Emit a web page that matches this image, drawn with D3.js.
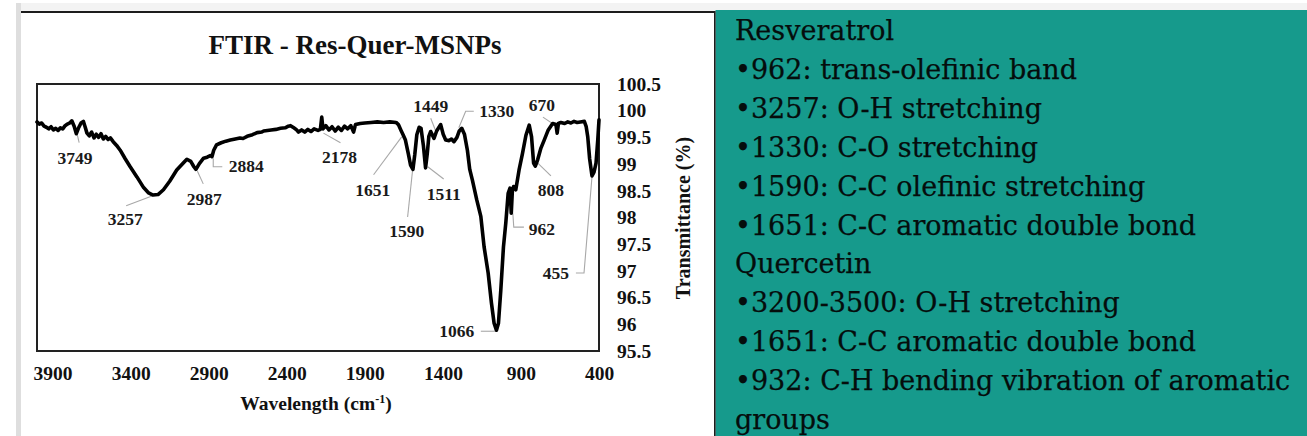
<!DOCTYPE html>
<html><head><meta charset="utf-8">
<script src="https://cdn.jsdelivr.net/npm/d3@7/dist/d3.min.js"></script>
<style>body{margin:0;background:#fff;overflow:hidden}svg{display:block}</style>
</head><body>
<svg id="c" width="1307" height="436"></svg>
<script>
// ---------- data ----------
const chartTitle = "FTIR - Res-Quer-MSNPs";
const xAxisTitle = "Wavelength (cm";
const xAxisTitleSup = "-1";
const yAxisTitle = "Transmittance (%)";

const wavenumbers = [4000,3985,3970,3955,3940,3925,3910,3895,3880,3865,3850,3835,3820,3805,3790,3777,3762,3748,3735,3718,3703,3692,3680,3665,3650,3635,3620,3605,3590,3575,3560,3545,3530,3512,3490,3467,3435,3403,3360,3317,3285,3257,3225,3190,3150,3105,3060,3040,3015,2995,2982,2960,2933,2910,2890,2879,2868,2850,2820,2790,2762,2730,2700,2680,2654,2620,2590,2560,2548,2500,2470,2440,2410,2390,2376,2355,2340,2325,2305,2285,2265,2245,2225,2200,2185,2176,2168,2150,2130,2110,2090,2070,2050,2030,2010,1990,1972,1960,1930,1900,1860,1820,1780,1740,1700,1685,1668,1655,1640,1622,1607,1592,1580,1567,1552,1540,1525,1511,1500,1490,1478,1457,1440,1414,1398,1382,1360,1345,1329,1310,1295,1279,1262,1243,1228,1211,1183,1157,1136,1110,1089,1072,1057,1044,1029,1012,997,982,970,962,955,947,933,912,890,868,847,832,819,808,793,772,751,725,697,676,668,660,644,620,600,580,560,540,520,494,482,472,460,445,432,419,408,400];
const transmittance = [99.79,99.75,99.77,99.71,99.69,99.66,99.70,99.64,99.67,99.63,99.68,99.66,99.72,99.75,99.77,99.81,99.71,99.57,99.67,99.77,99.80,99.70,99.58,99.53,99.60,99.49,99.56,99.50,99.57,99.47,99.52,99.46,99.49,99.42,99.35,99.26,99.10,98.95,98.76,98.56,98.46,98.42,98.43,98.52,98.68,98.89,99.03,99.09,99.05,98.95,98.90,99.01,99.11,99.13,99.16,99.14,99.26,99.36,99.40,99.43,99.45,99.47,99.49,99.48,99.52,99.55,99.59,99.60,99.62,99.64,99.65,99.67,99.68,99.71,99.72,99.68,99.65,99.60,99.64,99.60,99.65,99.61,99.66,99.63,99.65,99.88,99.66,99.72,99.64,99.70,99.62,99.69,99.63,99.71,99.66,99.72,99.60,99.74,99.76,99.77,99.78,99.79,99.78,99.79,99.78,99.74,99.63,99.55,99.45,99.20,98.98,98.90,99.18,99.55,99.69,99.67,99.35,98.93,99.20,99.52,99.61,99.48,99.62,99.74,99.56,99.45,99.44,99.47,99.42,99.50,99.62,99.67,99.56,99.26,98.90,98.70,98.33,98.02,97.45,96.96,96.40,96.02,95.89,96.02,96.64,97.45,97.90,98.45,98.55,98.08,98.50,98.58,98.52,98.89,99.20,99.54,99.73,99.51,99.02,98.96,99.08,99.30,99.45,99.64,99.76,99.74,99.58,99.76,99.78,99.76,99.79,99.77,99.80,99.78,99.79,99.80,99.70,99.51,99.10,98.78,98.85,99.02,99.45,99.83];

const xTickValues = [3900,3400,2900,2400,1900,1400,900,400];
const yTickValues = [95.5,96,96.5,97,97.5,98,98.5,99,99.5,100,100.5];

// peak annotations: label text, label centre (wavenumber, %T), leader polyline (wavenumber, %T)
const peakLabels = ["3749","3257","2987","2884","2178","1651","1590","1511","1449","1330","670","808","962","1066","455"];
const labelW = [3756,3435,2928,2659,2062,1850,1632,1395,1478,1055,766,708,766,1311,676];
const labelT = [99.11,97.97,98.35,98.96,99.13,98.52,97.75,98.44,100.09,99.99,100.11,98.52,97.78,95.87,96.96];
const leaderW = [[3743,3730],[3429,3268],[2973,2935],[2871,2871,2813],[2165,2056],[1844,1664],[1626,1594],[1497,1395],[1478,1446],[1202,1254,1298],[759,663],[792,708],[952,946,881],[1157,1061],[548,496,445]];
const leaderT = [[99.56,99.40],[98.22,98.40],[98.87,98.63],[99.11,98.95,98.95],[99.58,99.40],[98.80,99.51],[98.01,98.89],[98.95,98.72],[99.86,99.62],[99.99,99.99,99.68],[99.88,99.69],[99.02,98.78],[98.08,97.82,97.82],[95.87,95.87],[96.96,96.96,98.76]];

const noteLines = ["Resveratrol","\u2022962: trans-olefinic band","\u20223257: O-H stretching","\u20221330: C-O stretching","\u20221590: C-C olefinic stretching","\u20221651: C-C aromatic double bond","Quercetin","\u20223200-3500: O-H stretching","\u20221651: C-C aromatic double bond","\u2022932: C-H bending vibration of aromatic","groups"];

// ---------- drawing ----------
const svg = d3.select("#c");
const serif = "'Liberation Serif','Times New Roman',serif";

// page background pieces
svg.append("rect").attr("x",16).attr("y",3).attr("width",5).attr("height",433).attr("fill","#dedede");
svg.append("rect").attr("x",21).attr("y",3).attr("width",1286).attr("height",8).attr("fill","#f3f3f3");
svg.append("rect").attr("x",21).attr("y",13).attr("width",693).attr("height",423).attr("fill","#fff");
svg.append("line").attr("x1",21).attr("x2",715).attr("y1",12).attr("y2",12).attr("stroke","#1c1c1c").attr("stroke-width",2);
svg.append("rect").attr("x",715.5).attr("y",10).attr("width",592).attr("height",426).attr("fill","#169a8c");
svg.append("line").attr("x1",714.8).attr("x2",714.8).attr("y1",11).attr("y2",436).attr("stroke","#1c1c1c").attr("stroke-width",1.6);

// scales
const x = d3.scaleLinear().domain([4000,400]).range([37,599]);
const y = d3.scaleLinear().domain([95.5,100.5]).range([351,84]);

// title
svg.append("text").attr("x",355).attr("y",54).attr("text-anchor","middle")
  .attr("font-family",serif).attr("font-weight","bold").attr("font-size",27).attr("fill","#111")
  .text(chartTitle);

// frame
svg.append("rect").attr("x",37).attr("y",84).attr("width",562).attr("height",267)
  .attr("fill","none").attr("stroke","#222").attr("stroke-width",2);

// x axis
const gx = svg.append("g").attr("transform","translate(0,351)")
  .call(d3.axisBottom(x).tickValues(xTickValues).tickSize(0).tickPadding(15).tickFormat(d=>String(d)));
gx.select(".domain").remove();
gx.selectAll("text").attr("font-family",serif).attr("font-weight","bold").attr("font-size",19.5).attr("fill","#111");

// y axis (right)
const gy = svg.append("g").attr("transform","translate(599,0)")
  .call(d3.axisRight(y).tickValues(yTickValues).tickSize(0).tickPadding(18).tickFormat(d=>String(d)));
gy.select(".domain").remove();
gy.selectAll("text").attr("font-family",serif).attr("font-weight","bold").attr("font-size",19.5).attr("fill","#111");

// axis titles
const xt = svg.append("text").attr("x",316).attr("y",410).attr("text-anchor","middle")
  .attr("font-family",serif).attr("font-weight","bold").attr("font-size",19.5).attr("fill","#111");
xt.append("tspan").text(xAxisTitle);
xt.append("tspan").attr("dy",-7).attr("font-size",12).text(xAxisTitleSup);
xt.append("tspan").attr("dy",7).text(")");

svg.append("text").attr("transform","translate(683,218) rotate(-90)").attr("text-anchor","middle")
  .attr("dy","0.35em").attr("font-family",serif).attr("font-weight","bold").attr("font-size",20).attr("fill","#111")
  .text(yAxisTitle);

// leaders
const lineGen = d3.line().x(d=>x(d[0])).y(d=>y(d[1]));
peakLabels.forEach((lab,i)=>{
  const pts = leaderW[i].map((w,j)=>[w,leaderT[i][j]]);
  svg.append("path").attr("d",lineGen(pts)).attr("fill","none").attr("stroke","#a8a8a8").attr("stroke-width",1.1);
});

// spectrum
const spec = wavenumbers.map((w,i)=>[w,transmittance[i]]);
svg.append("path").datum(spec).attr("d",lineGen).attr("fill","none").attr("stroke","#000")
  .attr("stroke-width",3.6).attr("stroke-linejoin","round").attr("stroke-linecap","round");

// labels
svg.append("g").selectAll("text").data(peakLabels).join("text")
  .attr("x",(d,i)=>x(labelW[i])).attr("y",(d,i)=>y(labelT[i])).attr("dy","0.35em")
  .attr("text-anchor","middle").attr("font-family",serif).attr("font-weight","bold")
  .attr("font-size",17.5).attr("fill","#1a1a1a").text(d=>d);

// right-hand notes
svg.append("g").selectAll("text").data(noteLines).join("text")
  .attr("x",735).attr("y",(d,i)=>40+i*38.9)
  .attr("font-family","'DejaVu Serif',serif").attr("font-size",27).attr("fill","#050d0c")
  .attr("stroke","#050d0c").attr("stroke-width",0.25)
  .text(d=>d);
</script>
</body></html>
